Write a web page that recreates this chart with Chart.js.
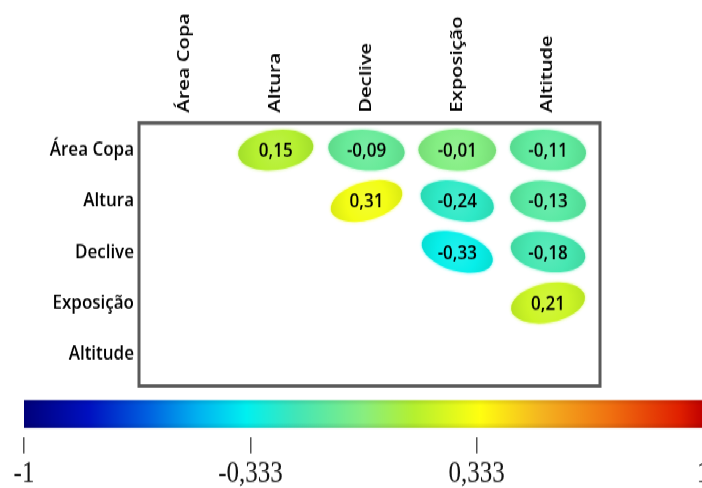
<!DOCTYPE html>
<html><head><meta charset="utf-8">
<script src="https://cdn.jsdelivr.net/npm/chart.js@4"></script>
<style>
html,body{margin:0;padding:0;background:#fff;overflow:hidden;width:702px;height:488px;}
#wrap{position:absolute;left:0;top:0;width:702px;height:414px;transform:scaleY(1.1787);transform-origin:0 0;overflow:hidden;}
#main{position:absolute;left:0;top:0;}
#cbar{position:absolute;left:0;top:330px;}
</style></head><body>
<div id="wrap">
<canvas id="main" width="702" height="330" style="width:702px;height:330px"></canvas>
<canvas id="cbar" width="740" height="84" style="width:740px;height:84px"></canvas>
</div>
<script>
// ---- data ----
const variables = ['Área Copa', 'Altura', 'Declive', 'Exposição', 'Altitude'];
const corrAreaCopa  = [null, 0.15, -0.09, -0.01, -0.11];
const corrAltura    = [null, null, 0.31, -0.24, -0.13];
const corrDeclive   = [null, null, null, -0.33, -0.18];
const corrExposicao = [null, null, null, null, 0.21];
const corrAltitude  = [null, null, null, null, null];
const colorbarTicks = [-1, -0.333, 0.333, 1];
const colorbarTickLabels = ['-1', '-0,333', '0,333', '1'];
const colormapValues = [-1, -0.81, -0.635, -0.49, -0.345, -0.2, 0.0, 0.148, 0.342, 0.525, 0.728, 0.93, 1];
const colormapColors = ['#00007a', '#0010c0', '#0060e0', '#00b0f0', '#00f0f0', '#40e6b8', '#88ee80', '#b4f030', '#ffff10', '#f4b420', '#f07010', '#e02000', '#c00000'];

const rows = [corrAreaCopa, corrAltura, corrDeclive, corrExposicao, corrAltitude];
const points = [];
rows.forEach((row, i) => row.forEach((v, j) => { if (v !== null) points.push({x: j, y: i, v: v}); }));

function hex2rgb(h){ return [parseInt(h.substr(1,2),16), parseInt(h.substr(3,2),16), parseInt(h.substr(5,2),16)]; }
function colorFor(v){
  for (let k = 0; k < colormapValues.length - 1; k++) {
    if (v >= colormapValues[k] && v <= colormapValues[k+1]) {
      const t = (v - colormapValues[k]) / (colormapValues[k+1] - colormapValues[k]);
      const a = hex2rgb(colormapColors[k]), b = hex2rgb(colormapColors[k+1]);
      return a.map((c, i) => Math.round(c + (b[i] - c) * t));
    }
  }
  return hex2rgb(colormapColors[colormapColors.length-1]);
}
const fmt = v => v.toFixed(2).replace('.', ',');

const ellipsePlugin = {
  id: 'ellipses',
  beforeDatasetsDraw(chart) {
    const {ctx, chartArea: ca} = chart;
    ctx.save();
    ctx.strokeStyle = '#5a5a5a';
    ctx.lineWidth = 3;
    ctx.strokeRect(ca.left, ca.top, ca.right - ca.left, ca.bottom - ca.top);
    ctx.restore();
  },
  afterDatasetsDraw(chart) {
    const {ctx} = chart;
    const meta = chart.getDatasetMeta(0);
    meta.data.forEach((el, i) => {
      const v = chart.data.datasets[0].data[i].v;
      const c = colorFor(v);
      const a = 39 - 8 * Math.abs(v), b = 17.5 - 4 * Math.abs(v);
      ctx.save();
      ctx.translate(el.x, el.y);
      ctx.rotate(-v * 40 * Math.PI / 180);
      ctx.beginPath();
      ctx.ellipse(0, 0, a, b, 0, 0, Math.PI * 2);
      ctx.shadowColor = `rgba(${c[0]},${c[1]},${c[2]},0.7)`;
      ctx.shadowBlur = 3;
      const g = ctx.createRadialGradient(0, 0, 0, 0, 0, a);
      const lite = c.map(x => Math.round(x + (255 - x) * 0.12));
      g.addColorStop(0, `rgb(${lite[0]},${lite[1]},${lite[2]})`);
      g.addColorStop(0.55, `rgb(${c[0]},${c[1]},${c[2]})`);
      g.addColorStop(1, `rgb(${Math.round(c[0]*0.9)},${Math.round(c[1]*0.93)},${Math.round(c[2]*0.9)})`);
      ctx.fillStyle = g;
      ctx.fill();
      ctx.restore();
      ctx.save();
      ctx.fillStyle = '#000';
      ctx.font = '600 17px "Open Sans"';
      ctx.textAlign = 'center';
      ctx.textBaseline = 'middle';
      ctx.fillText(fmt(v), el.x, el.y + 1);
      ctx.restore();
    });
  }
};

const labelFont = {family: 'Open Sans', size: 17, weight: '600'};
const catTicks = s => { s.ticks = variables.map((_, i) => ({value: i})); };

new Chart(document.getElementById('main'), {
  type: 'scatter',
  data: { datasets: [{ data: points, pointRadius: 0, pointHoverRadius: 0 }] },
  options: {
    responsive: false, animation: false,
    events: [],
    layout: { padding: { left: 0, right: 102, top: 0, bottom: 2.5 } },
    plugins: { legend: { display: false }, tooltip: { enabled: false } },
    scales: {
      x: {
        type: 'linear', position: 'top', min: -0.507, max: 4.573,
        afterBuildTicks: catTicks,
        afterFit: s => { s.height = 104.4; s.paddingLeft = 0; s.paddingRight = 0; },
        grid: { display: false, drawTicks: false },
        border: { display: false },
        ticks: { autoSkip: false, minRotation: 90, maxRotation: 90, padding: 9, labelOffset: 20, color: '#000', font: labelFont,
          callback: (v) => variables[v] }
      },
      y: {
        type: 'linear', reverse: true, min: -0.53, max: 4.63,
        afterBuildTicks: catTicks,
        afterFit: s => { s.width = 139; s.paddingTop = 0; s.paddingBottom = 0; },
        grid: { display: false, drawTicks: false },
        border: { display: false },
        ticks: { autoSkip: false, padding: 5, color: '#000', font: labelFont,
          callback: (v) => variables[v] }
      }
    }
  },
  plugins: [ellipsePlugin]
});

const barPlugin = {
  id: 'bar',
  beforeDraw(chart) {
    const {ctx, chartArea: ca, scales} = chart;
    const x0 = scales.x.getPixelForValue(-1), x1 = scales.x.getPixelForValue(1);
    const g = ctx.createLinearGradient(x0, 0, x1, 0);
    colormapValues.forEach((v, k) => g.addColorStop((v + 1) / 2, colormapColors[k]));
    ctx.save();
    ctx.fillStyle = g;
    ctx.fillRect(x0, ca.top, x1 - x0, 23.7);
    const s = ctx.createLinearGradient(0, ca.top, 0, ca.top + 23.7);
    s.addColorStop(0, 'rgba(0,0,0,0.10)');
    s.addColorStop(0.2, 'rgba(0,0,0,0)');
    s.addColorStop(0.8, 'rgba(0,0,0,0)');
    s.addColorStop(1, 'rgba(0,0,0,0.12)');
    ctx.fillStyle = s;
    ctx.fillRect(x0, ca.top, x1 - x0, 23.7);
    ctx.restore();
  }
};

new Chart(document.getElementById('cbar'), {
  type: 'scatter',
  data: { datasets: [{ data: [] }] },
  options: {
    responsive: false, animation: false, events: [],
    layout: { padding: { left: 24, right: 37, top: 9.4, bottom: 0 } },
    plugins: { legend: { display: false }, tooltip: { enabled: false } },
    scales: {
      x: {
        type: 'linear', position: 'bottom', min: -1, max: 1,
        afterBuildTicks: s => { s.ticks = colorbarTicks.map(v => ({value: v})); },
        afterFit: s => { s.height = 43.2; s.paddingLeft = 0; s.paddingRight = 0; },
        grid: { display: true, drawOnChartArea: false, drawTicks: true, tickLength: 14, color: '#555', lineWidth: 1.5 },
        border: { display: false },
        ticks: { autoSkip: false, maxRotation: 0, minRotation: 0, padding: 3, color: '#111',
          font: { family: 'Liberation Serif', size: 25 },
          callback: (v, i) => colorbarTickLabels[i] }
      },
      y: { display: false, min: 0, max: 1 }
    }
  },
  plugins: [barPlugin]
});
</script>
</body></html>
